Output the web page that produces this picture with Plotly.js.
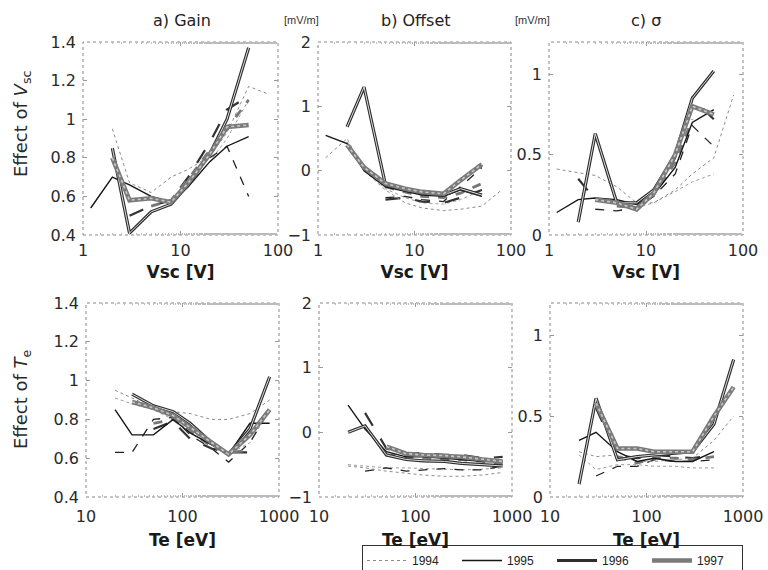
<!DOCTYPE html>
<html>
<head>
<meta charset="utf-8">
<script src="https://cdn.plot.ly/plotly-3.0.1.min.js"></script>
<style>html,body{margin:0;padding:0;background:#fff;}#chart{width:768px;height:570px;}</style>
</head>
<body>
<div id="chart"></div>
<script>
// ---------- data ----------
const years = ["1994", "1995", "1996", "1997"];
const vsc = [1, 1.2, 2, 3, 5, 8, 12, 20, 30, 50, 80];
const te = [20, 30, 50, 80, 120, 200, 300, 500, 800];

// a) Gain vs Vsc
const gain_vsc_1994  = [1.00, null, 0.95, 0.67, 0.62, 0.70, 0.74, 0.81, 0.93, 1.17, 1.13];
const gain_vsc_1994b = [null, null, null, null, null, 0.58, 0.66, 0.78, 0.90, 1.10, null];
const gain_vsc_1995  = [null, 0.54, 0.70, 0.66, 0.60, 0.57, 0.65, 0.78, 0.86, 0.91, null];
const gain_vsc_1995b = [null, null, null, null, null, null, null, 0.80, 0.86, 0.60, null];
const gain_vsc_1996  = [null, null, 0.85, 0.41, 0.52, 0.56, 0.66, 0.82, 1.00, 1.37, null];
const gain_vsc_1996b = [null, null, null, 0.50, 0.55, 0.58, 0.70, 0.88, 1.05, 1.12, null];
const gain_vsc_1997  = [null, null, 0.80, 0.58, 0.59, 0.57, 0.67, 0.82, 0.96, 0.97, null];
const gain_vsc_1997b = [null, null, null, null, 0.55, 0.58, 0.69, 0.84, 0.95, 1.10, null];

// b) Offset vs Vsc [mV/m]
const off_vsc_1994  = [null, 0.20, 0.50, 0.00, -0.30, -0.50, -0.58, -0.62, -0.60, -0.55, -0.30];
const off_vsc_1994b = [null, null, 0.45, 0.02, -0.28, -0.42, -0.50, -0.52, -0.45, -0.30, null];
const off_vsc_1995  = [null, 0.55, 0.42, 0.00, -0.25, -0.32, -0.38, -0.40, -0.30, -0.40, null];
const off_vsc_1995b = [null, null, null, null, -0.42, -0.40, -0.45, -0.48, -0.25, 0.05, null];
const off_vsc_1996  = [null, null, 0.68, 1.30, -0.22, -0.30, -0.35, -0.38, -0.28, -0.38, null];
const off_vsc_1996b = [null, null, null, null, -0.45, -0.42, -0.48, -0.50, -0.42, -0.30, null];
const off_vsc_1997  = [null, null, 0.40, 0.05, -0.20, -0.28, -0.33, -0.36, -0.15, 0.10, null];
const off_vsc_1997b = [null, null, null, null, -0.25, -0.33, -0.40, -0.42, -0.35, -0.20, null];

// c) sigma vs Vsc [mV/m]
const sig_vsc_1994  = [null, 0.41, 0.39, 0.37, 0.30, 0.20, 0.20, 0.28, 0.38, 0.48, 0.87];
const sig_vsc_1994b = [null, null, null, null, null, 0.17, 0.20, 0.27, 0.33, 0.38, null];
const sig_vsc_1995  = [null, 0.14, 0.22, 0.23, 0.22, 0.19, 0.25, 0.42, 0.70, 0.78, null];
const sig_vsc_1995b = [null, null, null, 0.16, 0.15, 0.17, 0.24, 0.38, 0.68, 0.55, null];
const sig_vsc_1996  = [null, null, 0.08, 0.63, 0.20, 0.20, 0.28, 0.50, 0.85, 1.02, null];
const sig_vsc_1996b = [null, null, 0.35, 0.22, 0.20, 0.17, 0.26, 0.48, 0.85, 0.72, null];
const sig_vsc_1997  = [null, null, null, 0.22, 0.20, 0.16, 0.26, 0.50, 0.80, 0.75, null];
const sig_vsc_1997b = [null, null, null, null, 0.18, 0.17, 0.25, 0.45, 0.72, null, null];

// d) Gain vs Te
const gain_te_1994  = [0.95, 0.91, 0.86, 0.84, 0.83, 0.80, 0.80, 0.83, 0.90];
const gain_te_1994b = [0.91, 0.88, 0.85, 0.80, 0.74, 0.68, 0.62, 0.68, 0.85];
const gain_te_1995  = [0.85, 0.72, 0.72, 0.80, 0.73, 0.67, 0.62, 0.78, 0.78];
const gain_te_1995b = [0.63, 0.63, 0.80, 0.81, 0.72, 0.65, 0.58, 0.68, 0.85];
const gain_te_1996  = [null, 0.93, 0.87, 0.84, 0.78, 0.68, 0.62, 0.75, 1.02];
const gain_te_1996b = [null, null, 0.75, 0.79, 0.70, 0.65, 0.63, 0.63, null];
const gain_te_1997  = [null, 0.89, 0.86, 0.82, 0.76, 0.68, 0.62, 0.72, 0.85];
const gain_te_1997b = [null, null, 0.78, 0.80, 0.74, 0.66, 0.63, 0.64, null];

// e) Offset vs Te [mV/m]
const off_te_1994  = [-0.52, -0.55, -0.60, -0.63, -0.66, -0.68, -0.68, -0.66, -0.62];
const off_te_1994b = [-0.50, -0.52, -0.55, -0.55, -0.56, -0.58, -0.58, -0.57, -0.55];
const off_te_1995  = [0.42, 0.05, -0.30, -0.38, -0.38, -0.40, -0.42, -0.45, -0.45];
const off_te_1995b = [null, -0.60, -0.55, -0.60, -0.58, -0.56, -0.58, -0.58, -0.52];
const off_te_1996  = [0.00, 0.10, -0.35, -0.42, -0.44, -0.45, -0.48, -0.50, -0.52];
const off_te_1996b = [null, 0.30, -0.25, -0.33, -0.32, -0.35, -0.35, -0.40, -0.38];
const off_te_1997  = [null, null, -0.22, -0.33, -0.35, -0.36, -0.38, -0.42, -0.45];
const off_te_1997b = [null, null, -0.35, -0.38, -0.40, -0.42, -0.42, -0.45, -0.48];

// f) sigma vs Te [mV/m]
const sig_te_1994  = [0.28, 0.25, 0.26, 0.22, 0.22, 0.23, 0.24, 0.35, 0.50];
const sig_te_1994b = [0.26, 0.17, 0.20, 0.20, 0.19, 0.19, 0.18, 0.18, null];
const sig_te_1995  = [0.35, 0.40, 0.28, 0.22, 0.24, 0.22, 0.22, 0.28, null];
const sig_te_1995b = [null, 0.13, 0.19, 0.19, 0.23, 0.22, 0.22, 0.23, null];
const sig_te_1996  = [0.08, 0.61, 0.23, 0.25, 0.26, 0.27, 0.28, 0.45, 0.85];
const sig_te_1996b = [null, 0.55, 0.26, 0.24, 0.26, 0.25, 0.24, 0.26, null];
const sig_te_1997  = [null, 0.58, 0.30, 0.30, 0.28, 0.28, 0.28, 0.50, 0.68];
const sig_te_1997b = [null, null, 0.25, 0.21, 0.24, 0.24, 0.23, 0.25, null];

const panelTitles = ["a) Gain", "b) Offset", "c) σ"];
const xTitles = ["Vsc [V]", "Te [eV]"];
const yTitles = ["Effect of <i>V</i><sub>sc</sub>", "Effect of <i>T</i><sub>e</sub>"];
const unitLabel = "[mV/m]";

// ---------- styles ----------
const styleMain = {
  "1994": [{color: "#8c8c8c", width: 1, dash: "dot"}],
  "1995": [{color: "#151515", width: 1.4, dash: "solid"}],
  "1996": [{color: "#2e2e2e", width: 3.2, dash: "solid"}, {color: "#dcdcdc", width: 1, dash: "solid"}],
  "1997": [{color: "#7a7a7a", width: 4.6, dash: "solid"}, {color: "#c8c8c8", width: 1.6, dash: "dot"}]
};
const styleAlt = {
  "1994": {color: "#9a9a9a", width: 1, dash: "dot"},
  "1995": {color: "#222", width: 1.3, dash: "dash"},
  "1996": {color: "#333", width: 2.2, dash: "longdash"},
  "1997": {color: "#777", width: 2.8, dash: "dash"}
};

const panels = [
  {x: vsc, ax: "", main: [gain_vsc_1994, gain_vsc_1995, gain_vsc_1996, gain_vsc_1997], alt: [gain_vsc_1994b, gain_vsc_1995b, gain_vsc_1996b, gain_vsc_1997b]},
  {x: vsc, ax: "2", main: [off_vsc_1994, off_vsc_1995, off_vsc_1996, off_vsc_1997], alt: [off_vsc_1994b, off_vsc_1995b, off_vsc_1996b, off_vsc_1997b]},
  {x: vsc, ax: "3", main: [sig_vsc_1994, sig_vsc_1995, sig_vsc_1996, sig_vsc_1997], alt: [sig_vsc_1994b, sig_vsc_1995b, sig_vsc_1996b, sig_vsc_1997b]},
  {x: te, ax: "4", main: [gain_te_1994, gain_te_1995, gain_te_1996, gain_te_1997], alt: [gain_te_1994b, gain_te_1995b, gain_te_1996b, gain_te_1997b]},
  {x: te, ax: "5", main: [off_te_1994, off_te_1995, off_te_1996, off_te_1997], alt: [off_te_1994b, off_te_1995b, off_te_1996b, off_te_1997b]},
  {x: te, ax: "6", main: [sig_te_1994, sig_te_1995, sig_te_1996, sig_te_1997], alt: [sig_te_1994b, sig_te_1995b, sig_te_1996b, sig_te_1997b]}
];

const traces = [];
panels.forEach((p, pi) => {
  years.forEach((yr, yi) => {
    traces.push({
      x: p.x, y: p.alt[yi], xaxis: "x" + p.ax, yaxis: "y" + p.ax,
      type: "scatter", mode: "lines", line: styleAlt[yr], showlegend: false,
      connectgaps: false, hoverinfo: "skip"
    });
  });
  years.forEach((yr, yi) => {
    styleMain[yr].forEach((st, si) => {
      traces.push({
        x: p.x, y: p.main[yi], xaxis: "x" + p.ax, yaxis: "y" + p.ax,
        type: "scatter", mode: "lines", line: st, name: yr,
        showlegend: (pi === 0 && si === 0), legendgroup: yr,
        hoverinfo: "skip"
      });
    });
  });
});

// ---------- layout ----------
const W = 768, H = 570;
const fx = (px) => px / W;
const fy = (py) => 1 - py / H;
const font = "DejaVu Sans, Liberation Sans, Arial, sans-serif";
const tickFont = {family: font, size: 16, color: "#2a2a2a"};

const xDom = [[fx(83), fx(278)], [fx(318), fx(511)], [fx(549), fx(743)],
              [fx(86), fx(279)], [fx(319), fx(512)], [fx(550), fx(743)]];
const yDom = [[fy(235), fy(42)], [fy(497), fy(303)]];
const yRanges = [[0.4, 1.4], [-1, 2], [0, 1.2]];
const yTicks = [[0.4, 0.6, 0.8, 1, 1.2, 1.4], [-1, 0, 1, 2], [0, 0.5, 1]];

const layout = {
  width: W, height: H,
  margin: {l: 0, r: 0, t: 0, b: 0, autoexpand: false},
  paper_bgcolor: "#ffffff", plot_bgcolor: "rgba(0,0,0,0)",
  font: {family: font, color: "#222"},
  showlegend: true,
  legend: {
    orientation: "h", x: fx(362), xanchor: "left", y: fy(545), yanchor: "top",
    bordercolor: "#333", borderwidth: 1, bgcolor: "#fff",
    font: {family: "Liberation Sans Narrow, Liberation Sans, Arial", size: 12, color: "#222"},
    entrywidth: 40, entrywidthmode: "pixels", tracegroupgap: 0, itemwidth: 40
  },
  shapes: [],
  annotations: []
};

for (let i = 0; i < 6; i++) {
  const s = i === 0 ? "" : String(i + 1);
  const row = i < 3 ? 0 : 1;
  const col = i % 3;
  layout["xaxis" + s] = {
    type: "log", domain: xDom[i], anchor: "y" + s,
    range: row === 0 ? [0, 2] : [1, 3],
    tickvals: row === 0 ? [1, 10, 100] : [10, 100, 1000],
    ticktext: row === 0 ? ["1", "10", "100"] : ["10", "100", "1000"],
    ticks: "inside", ticklen: 4, tickcolor: "#999", mirror: "ticks",
    showline: false, showgrid: false, zeroline: false,
    tickfont: tickFont, ticklabelstandoff: row === 0 ? 4 : 8,
    minor: {ticks: "inside", ticklen: 2, tickcolor: "#bbb", showgrid: false},
    title: {text: xTitles[row], font: {family: font, size: 17, color: "#1a1a1a", weight: "bold"}, standoff: row === 0 ? 7 : 9}
  };
  layout["yaxis" + s] = {
    domain: yDom[row], anchor: "x" + s,
    range: yRanges[col], tickvals: yTicks[col],
    ticks: "inside", ticklen: 4, tickcolor: "#999", mirror: "ticks",
    showline: false, showgrid: false, zeroline: false,
    tickfont: tickFont, ticklabelstandoff: 6
  };
  layout.shapes.push({
    type: "rect", xref: "x" + s + " domain", yref: "y" + s + " domain",
    x0: 0, x1: 1, y0: 0, y1: 1, line: {color: "#888", width: 1, dash: "dot"}, layer: "below"
  });
}

// panel titles
const titleX = [182, 416, 646];
titleX.forEach((x, i) => {
  layout.annotations.push({
    text: panelTitles[i], xref: "paper", yref: "paper", x: fx(x), y: fy(20),
    xanchor: "center", yanchor: "middle",
    showarrow: false, font: {family: font, size: 16, color: "#222"}
  });
});
[301, 532].forEach((x) => {
  layout.annotations.push({
    text: unitLabel, xref: "paper", yref: "paper", x: fx(x), y: fy(20),
    xanchor: "center", yanchor: "middle",
    showarrow: false, font: {family: "Liberation Sans Narrow, Liberation Sans, Arial", size: 11, color: "#333"}
  });
});
[[124, 0], [399, 1]].forEach(([y, r]) => {
  layout.annotations.push({
    text: yTitles[r], xref: "paper", yref: "paper", x: fx(22), y: fy(y),
    xanchor: "center", yanchor: "middle",
    textangle: -90, showarrow: false, font: {family: font, size: 18, color: "#2a2a2a"}
  });
});

Plotly.newPlot("chart", traces, layout, {staticPlot: true, displayModeBar: false});
</script>
</body>
</html>
